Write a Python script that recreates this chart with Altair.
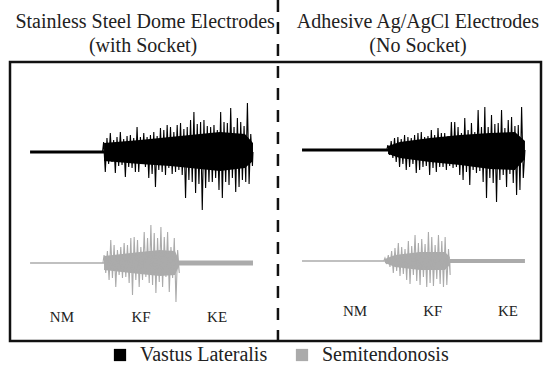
import altair as alt
import pandas as pd

# ---------------- data (time in s, amplitude in mV) ----------------
DT = 0.15            # spacing of the read-off peaks (s)
T_END = 10.0         # length of each recording (s)
RIGHT_OFFSET = 12.2  # where the right recording starts on the shared time axis
DIVIDER_T = 11.12

VL = "Vastus Lateralis"
ST = "Semitendonosis"

# trace baselines (vertical offsets of each trace, mV)
offsets = {"vl_l": 0.0, "st_l": -1.11, "vl_r": 0.02, "st_r": -1.09}

# Vastus lateralis, stainless steel dome electrodes (left)
vl_l_t0 = 3.30
vl_l_top = [0.10, 0.14, 0.19, 0.12, 0.15, 0.20, 0.13, 0.16, 0.17, 0.14, 0.25, 0.15, 0.19, 0.15, 0.17,
            0.20, 0.16, 0.24, 0.22, 0.27, 0.25, 0.20, 0.27, 0.29, 0.23, 0.25, 0.32, 0.40, 0.28, 0.30,
            0.32, 0.26, 0.25, 0.27, 0.22, 0.40, 0.30, 0.29, 0.44, 0.25, 0.34, 0.30, 0.26, 0.49, 0.18]
vl_l_bot = [0.20, 0.12, 0.10, 0.21, 0.14, 0.13, 0.25, 0.15, 0.16, 0.20, 0.20, 0.12, 0.15, 0.26, 0.22,
            0.35, 0.18, 0.20, 0.23, 0.16, 0.22, 0.20, 0.18, 0.23, 0.46, 0.28, 0.30, 0.41, 0.32, 0.58,
            0.36, 0.30, 0.30, 0.26, 0.38, 0.46, 0.30, 0.33, 0.26, 0.40, 0.35, 0.28, 0.30, 0.32, 0.14]
vl_l_core_t = [3.32, 4.93, 6.28, 7.62, 8.52, 9.64, 10.0]
vl_l_core_top = [0.09, 0.12, 0.15, 0.18, 0.20, 0.18, 0.09]
vl_l_core_bot = [0.09, 0.12, 0.14, 0.17, 0.19, 0.16, 0.09]

# Vastus lateralis, adhesive Ag/AgCl electrodes (right)
vl_r_t0 = 3.85
vl_r_top = [0.05, 0.09, 0.12, 0.13, 0.11, 0.15, 0.13, 0.12, 0.15, 0.17, 0.18, 0.13, 0.14, 0.20, 0.15,
            0.22, 0.17, 0.17, 0.14, 0.28, 0.28, 0.23, 0.17, 0.32, 0.20, 0.27, 0.18, 0.40, 0.23, 0.43,
            0.23, 0.35, 0.26, 0.27, 0.40, 0.22, 0.30, 0.33, 0.24, 0.25, 0.43]
vl_r_bot = [0.05, 0.08, 0.12, 0.17, 0.14, 0.20, 0.17, 0.14, 0.23, 0.20, 0.17, 0.16, 0.25, 0.18, 0.22,
            0.17, 0.17, 0.20, 0.16, 0.18, 0.17, 0.25, 0.30, 0.22, 0.35, 0.20, 0.23, 0.21, 0.32, 0.48,
            0.28, 0.33, 0.52, 0.30, 0.25, 0.37, 0.24, 0.33, 0.45, 0.40, 0.28]
vl_r_core_t = [3.86, 4.39, 5.74, 7.09, 8.43, 9.55, 10.0]
vl_r_core_top = [0.04, 0.08, 0.12, 0.15, 0.17, 0.18, 0.09]
vl_r_core_bot = [0.04, 0.08, 0.12, 0.15, 0.19, 0.20, 0.09]

# Semitendonosis, left
st_l_t0 = 3.32
st_l_top = [0.08, 0.12, 0.23, 0.18, 0.13, 0.16, 0.20, 0.18, 0.25, 0.26, 0.23, 0.16, 0.31, 0.25, 0.38,
            0.30, 0.25, 0.36, 0.26, 0.31, 0.16, 0.25, 0.13]
st_l_bot = [0.10, 0.17, 0.15, 0.24, 0.12, 0.15, 0.14, 0.20, 0.32, 0.17, 0.24, 0.17, 0.14, 0.20, 0.22,
            0.30, 0.19, 0.24, 0.14, 0.29, 0.15, 0.39, 0.10]
st_l_core_t = [3.32, 4.93, 5.83, 6.50, 6.64]
st_l_core_top = [0.07, 0.11, 0.13, 0.12, 0.05]
st_l_core_bot = [0.07, 0.11, 0.13, 0.12, 0.05]

# Semitendonosis, right
st_r_t0 = 3.72
st_r_top = [0.03, 0.06, 0.10, 0.13, 0.18, 0.14, 0.12, 0.20, 0.15, 0.26, 0.18, 0.22, 0.17, 0.29, 0.24,
            0.16, 0.26, 0.20, 0.24, 0.12]
st_r_bot = [0.03, 0.06, 0.12, 0.10, 0.15, 0.13, 0.19, 0.23, 0.14, 0.20, 0.24, 0.16, 0.26, 0.22, 0.25,
            0.18, 0.23, 0.26, 0.24, 0.14]
st_r_core_t = [3.72, 4.17, 5.29, 6.41, 6.63]
st_r_core_top = [0.02, 0.06, 0.09, 0.09, 0.04]
st_r_core_bot = [0.02, 0.06, 0.09, 0.09, 0.04]

# quiet segments: (series, start, end, half thickness mV)
quiet = [
    ("vl_l", 0.0, 3.32, 0.015), ("vl_r", 0.0, 3.86, 0.015),
    ("st_l", 0.0, 3.32, 0.007), ("st_r", 0.0, 3.72, 0.007),
    ("st_l", 6.64, 10.0, 0.025), ("st_r", 6.63, 10.0, 0.02),
]

titles = ["Stainless Steel Dome Electrodes", "(with Socket)", "Adhesive Ag/AgCl Electrodes", "(No Socket)"]
title_t = [5.16, 5.07, RIGHT_OFFSET + 5.2, RIGHT_OFFSET + 5.2]
title_y = [1.245, 1.005, 1.245, 1.005]

phases = ["NM", "KF", "KE"]
phase_t_left = [1.43, 4.98, 8.39]
phase_t_right = [2.38, 5.87, 9.24]
phase_y_left = -1.70
phase_y_right = -1.64

# ---------------- tables ----------------
series_info = {
    "vl_l": (VL, 0.0, vl_l_t0, vl_l_top, vl_l_bot, vl_l_core_t, vl_l_core_top, vl_l_core_bot),
    "vl_r": (VL, RIGHT_OFFSET, vl_r_t0, vl_r_top, vl_r_bot, vl_r_core_t, vl_r_core_top, vl_r_core_bot),
    "st_l": (ST, 0.0, st_l_t0, st_l_top, st_l_bot, st_l_core_t, st_l_core_top, st_l_core_bot),
    "st_r": (ST, RIGHT_OFFSET, st_r_t0, st_r_top, st_r_bot, st_r_core_t, st_r_core_top, st_r_core_bot),
}

trace_rows, core_rows, quiet_rows = [], [], []
for key, (muscle, shift, t0, top, bot, ct, ctop, cbot) in series_info.items():
    off = offsets[key]
    order = 0
    trace_rows.append(dict(series=key, muscle=muscle, t=shift + t0 - 0.05, y=off, order=order))
    for k, (a, b) in enumerate(zip(top, bot)):
        order += 1
        trace_rows.append(dict(series=key, muscle=muscle, t=shift + t0 + k * DT, y=off + a, order=order))
        order += 1
        trace_rows.append(dict(series=key, muscle=muscle, t=shift + t0 + k * DT + DT / 2, y=off - b, order=order))
    order += 1
    trace_rows.append(dict(series=key, muscle=muscle, t=shift + ct[-1], y=off, order=order))
    for t, a, b in zip(ct, ctop, cbot):
        core_rows.append(dict(series=key, muscle=muscle, t=shift + t, y=off + a, y2=off - b))

for i, (key, t1, t2, h) in enumerate(quiet):
    muscle, shift = series_info[key][0], series_info[key][1]
    off = offsets[key]
    for t in (t1, t2):
        quiet_rows.append(dict(seg=f"q{i}", muscle=muscle, t=shift + t, y=off + h, y2=off - h))

trace_df = pd.DataFrame(trace_rows)
core_df = pd.DataFrame(core_rows)
quiet_df = pd.DataFrame(quiet_rows)
title_df = pd.DataFrame(dict(label=titles, t=title_t, y=title_y))
phase_df = pd.DataFrame(dict(
    label=phases + phases,
    t=phase_t_left + [RIGHT_OFFSET + v for v in phase_t_right],
    y=[phase_y_left] * 3 + [phase_y_right] * 3,
))
divider_df = pd.DataFrame(dict(t=[DIVIDER_T], y=[1.52], y2=[-1.89]))

# ---------------- chart ----------------
FONT = "Liberation Serif"
xs = alt.Scale(domain=[-0.9, 22.92], nice=False, zero=False)
ys = alt.Scale(domain=[-1.89, 0.90], nice=False, zero=False)
cdom = [VL, ST]
crange = ["#000000", "#ababab"]

legend = alt.Legend(
    orient="none", legendX=100, legendY=283, direction="horizontal", title=None,
    symbolType="square", symbolSize=150, symbolStrokeWidth=0,
    labelFontSize=20, labelFont=FONT, labelColor="#222222",
    columnPadding=24, labelOffset=10, padding=0,
)
color = alt.Color("muscle:N", scale=alt.Scale(domain=cdom, range=crange), legend=legend)
stroke = alt.Stroke("muscle:N", scale=alt.Scale(domain=cdom, range=crange), legend=None)

X = alt.X("t:Q", scale=xs, axis=None)
Y = alt.Y("y:Q", scale=ys, axis=None)

core = alt.Chart(core_df).mark_area(opacity=1).encode(
    x=X, y=Y, y2="y2:Q", color=color, detail="series:N")
quiet_layer = alt.Chart(quiet_df).mark_area(opacity=1).encode(
    x=X, y=Y, y2="y2:Q", color=color, detail="seg:N")
traces = alt.Chart(trace_df).mark_line(strokeWidth=1.1).encode(
    x=X, y=Y, stroke=stroke, detail="series:N", order="order:Q")
title_layer = alt.Chart(title_df).mark_text(
    font=FONT, fontSize=20, color="#222222", baseline="alphabetic", align="center").encode(
    x=X, y=Y, text="label:N")
phase_layer = alt.Chart(phase_df).mark_text(
    font=FONT, fontSize=15, color="#222222", baseline="alphabetic", align="center").encode(
    x=X, y=Y, text="label:N")
divider = alt.Chart(divider_df).mark_rule(
    color="#111111", strokeWidth=2.5, strokeDash=[12, 10]).encode(
    x=X, y=Y, y2="y2:Q")

chart = alt.layer(core, quiet_layer, traces, title_layer, phase_layer, divider).properties(
    width=531, height=279,
    padding={"left": 10, "top": 62, "right": 2, "bottom": 26},
    autosize=alt.AutoSizeParams(type="none"),
    background="white",
).configure_view(
    stroke="#111111", strokeWidth=2.5
).configure_legend(
    labelFont=FONT, labelFontSize=20, labelColor="#222222"
)

chart.save("out.html", embed_options={"renderer": "svg", "actions": False})
